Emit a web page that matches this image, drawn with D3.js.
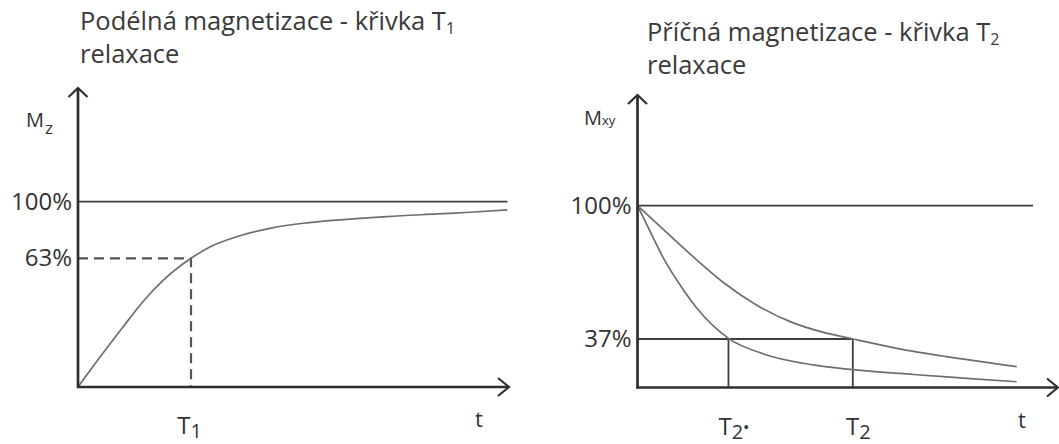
<!doctype html>
<html lang="cs">
<head>
  <meta charset="utf-8">
  <title>T1 a T2 relaxace</title>
  <script src="https://d3js.org/d3.v7.min.js"></script>
  <style>
    body { margin: 0; background: #fff; }
    svg { display: block; font-family: "Open Sans", "Noto Sans", sans-serif; }
    .axis-line { stroke: #2e2e2e; stroke-width: 2.7; fill: none; }
    .ref { stroke: #3e3e3e; stroke-width: 1.8; fill: none; }
    .curve { stroke: #6e6e6e; stroke-width: 1.7; fill: none; }
    .dash { stroke: #555; stroke-width: 2.2; stroke-dasharray: 10,6; fill: none; }
    .guide { stroke: #3e3e3e; stroke-width: 1.8; fill: none; }
    text { fill: #333; }
  </style>
</head>
<body>
<svg id="chart" width="1059" height="444"></svg>
<script>
// T1 (left) - podelna magnetizace, cas v jednotkach T1
var t1Time = [0, 0.2, 0.4, 0.578, 0.755, 1.0, 1.171, 1.404, 1.699, 1.994, 2.348, 2.732, 3.177, 3.469, 3.8];
var t1Mz   = [0, 15, 29.5, 42, 52.3, 63, 70.6, 77.1, 82.6, 85.9, 88.3, 90.3, 92.0, 93.1, 94.6];
var t1Ticks = [63, 100];
var t1Mark = 1;   // T1
var t1Level = 63;

// T2 (right) - pricna magnetizace, cas v jednotkach T2
var t2Time = [0, 0.121, 0.276, 0.399, 0.554, 0.709, 0.864, 1.0, 1.204, 1.436, 1.761];
var t2Mxy  = [100, 88.7, 74.3, 63.7, 53.0, 45.2, 40.1, 37, 29.9, 23.5, 15.9];
var t2sTime = [0, 0.059, 0.121, 0.198, 0.276, 0.4225, 0.585, 0.817, 1.0, 1.281, 1.513, 1.761];
var t2sMxy  = [100, 87.7, 75.1, 62.5, 51.5, 37.3, 25.6, 17.2, 13.6, 9.9, 7.2, 4.4];
var t2Ticks = [37, 100];
var t2Marks = [0.4225, 1];   // T2*, T2
var t2Level = 37;

var svg = d3.select("#chart");

var xL = d3.scaleLinear().domain([0, 3.8]).range([78, 507.4]);
var yL = d3.scaleLinear().domain([0, 63, 100]).range([387, 258.3, 201.7]);
var xR = d3.scaleLinear().domain([0, 1.953]).range([637.5, 1058]);
var yR = d3.scaleLinear().domain([0, 37, 100]).range([387.5, 339, 205.7]);

function title(x, y, main, sub) {
  var t = svg.append("text").attr("x", x).attr("y", y)
    .style("font-size", "25.5px").style("fill", "#3a3a3a");
  t.append("tspan").text(main);
  t.append("tspan").text(sub).style("font-size", "16px").attr("dy", 4);
  svg.append("text").attr("x", x).attr("y", y + 33)
    .style("font-size", "25.5px").style("fill", "#3a3a3a").text("relaxace");
}

function axesFrame(x, y, topY, xEnd) {
  var x0 = x.range()[0], y0 = y(0);
  svg.append("line").attr("class", "axis-line")
    .attr("x1", x0).attr("y1", y0 + 1).attr("x2", x0).attr("y2", topY);
  svg.append("line").attr("class", "axis-line")
    .attr("x1", x0 - 1).attr("y1", y0).attr("x2", xEnd).attr("y2", y0);
  svg.append("polyline").attr("class", "axis-line").style("stroke-width", 2.2)
    .attr("points", [[x0 - 9.5, topY + 9], [x0, topY], [x0 + 9.5, topY + 9]].join(" "));
  svg.append("polyline").attr("class", "axis-line").style("stroke-width", 2.2)
    .attr("points", [[xEnd - 11, y0 - 9], [xEnd, y0], [xEnd - 11, y0 + 9]].join(" "));
}

function yTicks(x, y, ticks, pad) {
  var g = svg.append("g").attr("transform", "translate(" + x.range()[0] + ",0)")
    .call(d3.axisLeft(y).tickValues(ticks).tickSize(0).tickPadding(pad)
      .tickFormat(function(d) { return d + "%"; }));
  g.select(".domain").remove();
  g.selectAll("text").style("font-size", "24px").style("font-family", "'Open Sans', sans-serif")
    .style("fill", "#333");
}

function xTicks(x, y, ticks, subs, stars, shift) {
  var g = svg.append("g").attr("transform", "translate(0," + y(0) + ")")
    .call(d3.axisBottom(x).tickValues(ticks).tickSize(0).tickFormat(""));
  g.select(".domain").remove();
  g.selectAll(".tick text").each(function(d, i) {
    var t = d3.select(this).attr("y", 47).attr("dy", 0).attr("dx", shift)
      .style("font-family", "'Open Sans', sans-serif").style("fill", "#333");
    t.append("tspan").text("T").style("font-size", "24px");
    t.append("tspan").text(subs[i]).style("font-size", "20px").attr("dy", 4);
    if (stars[i]) t.append("tspan").text("•").style("font-size", "17px").attr("dy", -6);
  });
}

var line = function(x, y) {
  return d3.line().x(function(d) { return x(d[0]); }).y(function(d) { return y(d[1]); })
    .curve(d3.curveMonotoneX);
};

// ---- left panel: T1
title(80, 30, "Podélná magnetizace - křivka T", "1");
svg.append("line").attr("class", "ref")
  .attr("x1", xL(0)).attr("y1", yL(100)).attr("x2", xL(3.8)).attr("y2", yL(100));
svg.append("path").attr("class", "dash")
  .attr("d", "M" + xL(0) + "," + yL(t1Level) + "H" + xL(t1Mark) + "V" + yL(0));
svg.append("path").attr("class", "curve")
  .attr("d", line(xL, yL)(d3.zip(t1Time, t1Mz)));
axesFrame(xL, yL, 88, 509);
yTicks(xL, yL, t1Ticks, 6);
xTicks(xL, yL, [t1Mark], ["1"], [false], -2);
var mz = svg.append("text").attr("x", 26).attr("y", 127);
mz.append("tspan").text("M").style("font-size", "20px");
mz.append("tspan").text("z").style("font-size", "17px").attr("dx", 1).attr("dy", 7);
svg.append("text").attr("x", 479).attr("y", 427).attr("text-anchor", "middle")
  .style("font-size", "22px").text("t");

// ---- right panel: T2
title(647, 41, "Příčná magnetizace - křivka T", "2");
svg.append("line").attr("class", "ref")
  .attr("x1", xR(0)).attr("y1", yR(100)).attr("x2", xR(1.837)).attr("y2", yR(100));
svg.append("line").attr("class", "guide")
  .attr("x1", xR(0)).attr("y1", yR(t2Level)).attr("x2", xR(t2Marks[1])).attr("y2", yR(t2Level));
svg.selectAll(".vguide").data(t2Marks).enter().append("line").attr("class", "guide")
  .attr("x1", function(d) { return xR(d); }).attr("x2", function(d) { return xR(d); })
  .attr("y1", yR(t2Level)).attr("y2", yR(0));
svg.append("path").attr("class", "curve")
  .attr("d", line(xR, yR)(d3.zip(t2Time, t2Mxy)));
svg.append("path").attr("class", "curve")
  .attr("d", line(xR, yR)(d3.zip(t2sTime, t2sMxy)));
axesFrame(xR, yR, 95, 1058);
yTicks(xR, yR, t2Ticks, 6);
xTicks(xR, yR, t2Marks, ["2", "2"], [true, false], 5);
var mxy = svg.append("text").attr("x", 584).attr("y", 125);
mxy.append("tspan").text("M").style("font-size", "20px");
mxy.append("tspan").text("xy").style("font-size", "13px");
svg.append("text").attr("x", 1022).attr("y", 428).attr("text-anchor", "middle")
  .style("font-size", "22px").text("t");
</script>
</body>
</html>
